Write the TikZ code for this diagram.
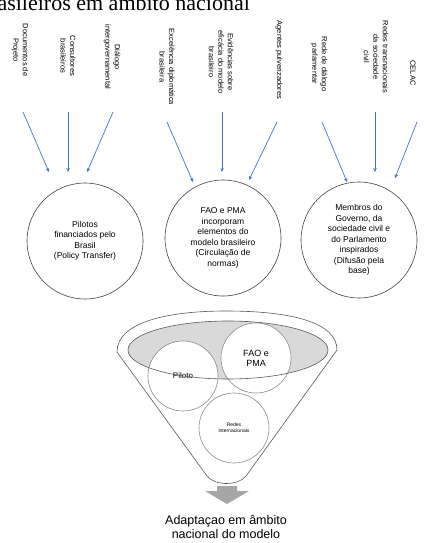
\documentclass[tikz,border=0pt]{standalone}
\usepackage{fontspec}
\setmainfont{Liberation Sans}
\newfontfamily\headfont{Liberation Serif}
\usetikzlibrary{arrows.meta}

\definecolor{flowblue}{RGB}{68,114,196}
\tikzset{
  srclabel/.style={rotate=-90, align=center, inner sep=0pt,
    font=\fontsize{7.5}{9.5}\selectfont},
  flow/.style={draw=flowblue, line width=0.7pt,
    -{Stealth[length=4pt,width=3.5pt]}},
  bigcircle/.style={circle, draw=black!75, line width=0.6pt,
    minimum size=116pt, align=center, font=\fontsize{8.5}{10.5}\selectfont},
  smallcircle/.style={circle, draw=black!45, fill=white, line width=0.6pt,
    minimum size=70pt, align=center},
  funnelline/.style={draw=black!65, line width=0.6pt}
}

\begin{document}
\begin{tikzpicture}[x=1pt,y=-1pt]
\useasboundingbox (0,0) rectangle (424,543);
\clip (0,0) rectangle (424,543);

% Drawing heading (cut at top)
\node[anchor=base west, inner sep=0pt, font=\headfont\fontsize{22}{24}\selectfont]
  (head) at (-21,11) {brasileiros em âmbito nacional};

% Drawing source labels
\node[srclabel] (docs) at (20,50) {Documentos de\\Projeto};
\node[srclabel] (consult) at (68,56) {Consultores\\brasileiros};
\node[srclabel] (dialogo) at (112,57) {Diálogo\\intergovernamental};
\node[srclabel] (excel) at (167,67) {Excelência diplomática\\brasileira};
\node[srclabel] (evid) at (221,62) {Evidências sobre\\eficácia do modelo\\brasileiro};
\node[srclabel] (agentes) at (279,60) {Agentes pulverizadores};
\node[srclabel] (rede) at (319,64) {Rede de diálogo\\parlamentar};
\node[srclabel] (redestn) at (376,57) {Redes transnacionais\\da sociedade\\civil};
\node[srclabel] (celac) at (413,73) {CELAC};

% Drawing the three circles
\node[bigcircle] (pilotos) at (85,241)
  {Pilotos\\financiados pelo\\Brasil\\(Policy Transfer)};
\node[bigcircle] (faopma) at (223,238)
  {FAO e PMA\\incorporam\\elementos do\\modelo brasileiro\\(Circulação de\\normas)};
\node[bigcircle] (membros) at (359,240)
  {Membros do\\Governo, da\\sociedade civil e\\do Parlamento\\inspirados\\(Difusão pela\\base)};

% Drawing arrow ends
\coordinate (t1) at (23,112);  \coordinate (h1) at (49,172);
\coordinate (t2) at (68,112);  \coordinate (h2) at (68,172);
\coordinate (t3) at (113,112); \coordinate (h3) at (87,172);
\coordinate (t4) at (167,122); \coordinate (h4) at (193,182);
\coordinate (t5) at (222,112); \coordinate (h5) at (222,172);
\coordinate (t6) at (277,122); \coordinate (h6) at (249,180);
\coordinate (t7) at (322,122); \coordinate (h7) at (347,182);
\coordinate (t8) at (375,112); \coordinate (h8) at (375,172);
\coordinate (t9) at (417,122); \coordinate (h9) at (395,178);

% Drawing arrows
\foreach \i in {1,...,9}
  \draw[flow] (t\i) -- (h\i);

% Drawing funnel
\draw[funnelline] (117,352) .. controls (117,322) and (168,311) .. (226,311)
  .. controls (290,311) and (337,322) .. (337,350)
  -- (246,476) .. controls (238,486) and (215,486) .. (207,476) -- cycle;
\fill[black!15] (228,350) ellipse [x radius=100, y radius=29];

% Drawing circles in the funnel
\node[smallcircle, font=\fontsize{8}{9}\selectfont] (piloto) at (183,376) {Piloto};
\node[smallcircle, font=\fontsize{9}{10}\selectfont] (fao) at (256,358) {FAO e\\PMA};
\node[smallcircle, font=\fontsize{5}{6}\selectfont] (redes) at (234,428)
  {Redes\\internacionais};
\draw[funnelline] (228,350) ellipse [x radius=100, y radius=29];

% Drawing down arrow and result
\fill[black!35] (217,486) -- (237,486) -- (237,491) -- (249,491)
  -- (227,504) -- (205,491) -- (217,491) -- cycle;
\node[anchor=north, align=center, inner sep=0pt,
  font=\fontsize{12.5}{14}\selectfont] (adapt) at (226,515)
  {Adaptaçao em âmbito\\nacional do modelo};
\end{tikzpicture}
\end{document}
